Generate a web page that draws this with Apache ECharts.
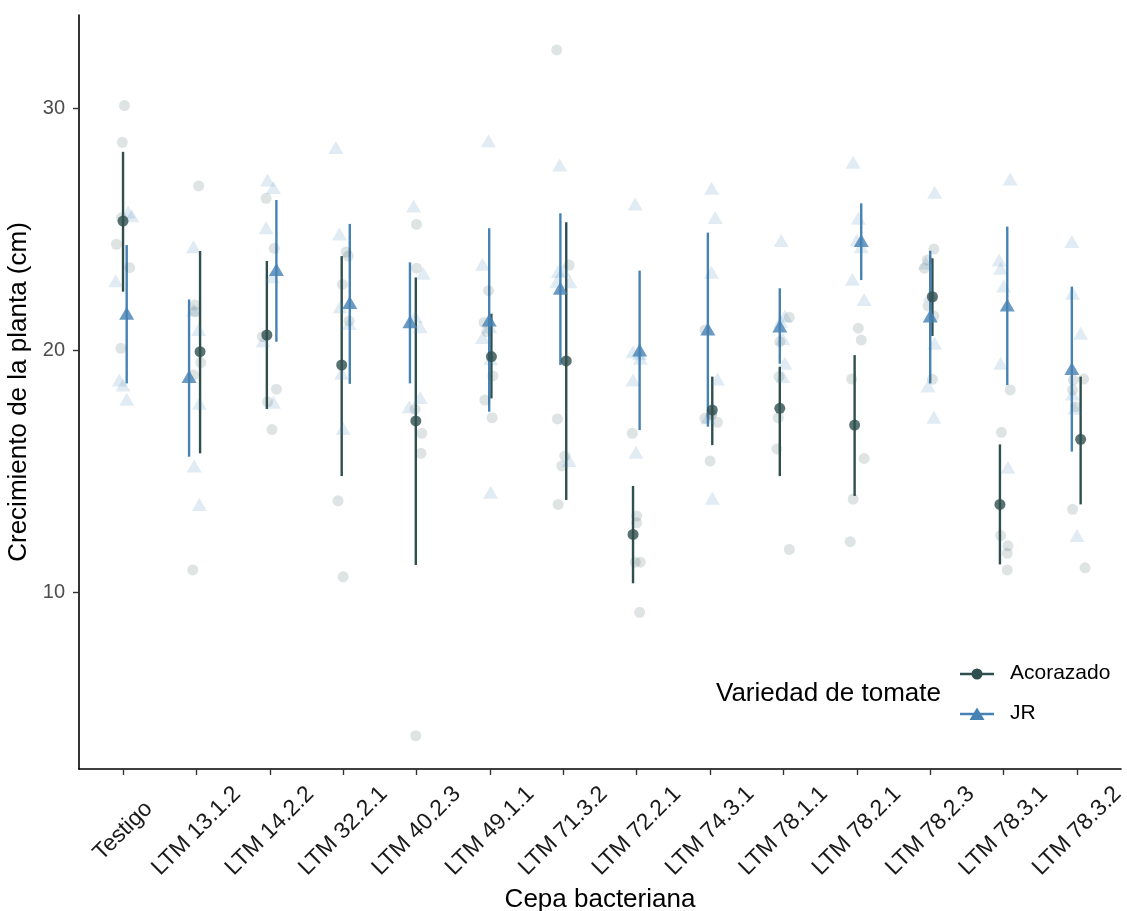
<!DOCTYPE html>
<html>
<head>
<meta charset="utf-8">
<script src="https://cdn.jsdelivr.net/npm/echarts@6/dist/echarts.min.js"></script>
<style>
html,body{margin:0;padding:0;background:#fff;}
#chart{width:1127px;height:911px;}
</style>
</head>
<body>
<div id="chart"></div>
<script>
const categories = ['Testigo','LTM 13.1.2','LTM 14.2.2','LTM 32.2.1','LTM 40.2.3','LTM 49.1.1','LTM 71.3.2','LTM 72.2.1','LTM 74.3.1','LTM 78.1.1','LTM 78.2.1','LTM 78.2.3','LTM 78.3.1','LTM 78.3.2'];
const yTicks = [10, 20, 30];

// Means and interval limits (cm)
const acorMean = [25.33, 19.93, 20.62, 19.38, 17.07, 19.73, 19.55, 12.38, 17.52, 17.59, 16.90, 22.20, 13.62, 16.31];
const acorLow  = [22.41, 15.73, 17.56, 14.79, 11.12, 18.00, 13.80, 10.36, 16.07, 14.79, 13.97, 20.58, 11.14, 13.62];
const acorHigh = [28.19, 24.09, 23.68, 23.88, 23.00, 21.50, 25.28, 14.38, 18.90, 19.31, 19.79, 23.79, 16.10, 18.90];
const jrMean = [21.52, 18.90, 23.33, 21.96, 21.17, 21.24, 22.55, 20.00, 20.87, 20.99, 24.52, 21.40, 21.86, 19.24];
const jrLow  = [18.62, 15.59, 20.34, 18.60, 18.62, 17.45, 19.38, 16.69, 16.83, 19.43, 22.89, 18.62, 18.55, 15.80];
const jrHigh = [24.34, 22.09, 26.20, 25.21, 23.62, 25.03, 25.65, 23.28, 24.85, 22.55, 26.06, 24.10, 25.10, 22.62];
// jitter of the summary marks (category units)
const acorMeanJitter = [0.00, 0.05, -0.04, -0.02, -0.01, 0.02, 0.04, -0.05, 0.03, -0.05, -0.03, 0.03, -0.05, 0.05];
const jrMeanJitter   = [0.05, -0.10, 0.09, 0.09, -0.09, -0.01, -0.04, 0.04, -0.03, -0.05, 0.06, 0.00, 0.05, -0.07];

// Raw observations per strain
const acorRaw = [
  [30.10,28.58,25.46,24.37,23.40,20.07],
  [26.78,21.86,21.58,19.48,18.97,10.91],
  [26.27,24.20,20.55,18.38,17.86,16.71],
  [24.05,23.88,22.71,21.20,13.77,10.63],
  [25.19,23.38,17.55,16.56,15.73,4.06],
  [22.45,21.14,20.76,18.93,17.93,17.20],
  [32.40,23.51,17.15,15.62,15.21,13.62],
  [16.56,13.14,12.86,11.23,11.23,9.16],
  [20.83,17.37,17.31,17.18,17.01,15.41],
  [21.35,20.34,18.90,17.20,15.91,11.76],
  [20.90,20.41,18.80,15.52,13.84,12.08],
  [24.17,23.72,23.38,21.82,21.40,18.79],
  [18.35,16.60,12.33,11.91,11.60,10.91],
  [18.80,18.76,18.35,17.66,13.42,11.00]
];
const acorRawJitter = [
  [0.02,-0.01,-0.02,-0.09,0.09,-0.03],
  [0.03,-0.02,-0.02,0.06,-0.04,-0.05],
  [-0.05,0.06,-0.10,0.09,-0.03,0.03],
  [0.04,0.07,-0.01,0.08,-0.07,0.00],
  [0.00,0.00,-0.02,0.07,0.06,-0.01],
  [-0.02,-0.08,-0.04,0.04,-0.07,0.03],
  [-0.09,0.08,-0.08,0.02,-0.02,-0.07],
  [-0.06,0.00,0.00,-0.02,0.05,0.04],
  [-0.07,0.02,0.02,-0.07,0.10,0.00],
  [0.08,-0.05,-0.06,-0.07,-0.09,0.08],
  [0.02,0.06,-0.07,0.10,-0.05,-0.09],
  [0.05,-0.04,-0.08,-0.03,0.05,0.03],
  [0.09,-0.03,-0.04,0.06,0.05,0.05],
  [0.09,-0.05,-0.06,-0.02,-0.06,0.11]
];
const jrRaw = [
  [25.70,25.55,22.86,18.76,18.55,17.96],
  [24.27,21.65,20.85,17.80,15.21,13.62],
  [27.02,26.72,25.05,23.03,20.38,17.84],
  [28.37,24.79,21.79,21.10,19.04,16.76],
  [25.95,23.17,21.38,20.96,18.04,17.66],
  [28.65,23.54,20.96,20.52,19.65,14.12],
  [27.64,23.30,23.24,22.82,22.82,15.43],
  [26.03,19.93,19.85,19.66,18.76,15.77],
  [26.68,25.48,23.21,18.80,17.20,13.87],
  [24.52,21.40,21.19,20.48,19.45,18.90],
  [27.76,25.44,24.55,24.27,22.92,22.09],
  [26.52,23.60,22.27,20.28,18.51,17.22],
  [27.07,23.72,23.38,22.64,19.45,15.15],
  [24.48,22.34,20.69,18.18,17.59,12.33]
];
const jrRawJitter = [
  [0.07,0.12,-0.10,-0.05,0.00,0.05],
  [-0.04,-0.04,0.03,0.04,-0.03,0.04],
  [-0.03,0.05,-0.05,0.03,-0.09,0.05],
  [-0.10,-0.05,-0.04,0.08,-0.02,0.00],
  [-0.04,0.09,-0.02,0.05,0.05,-0.10],
  [-0.02,-0.10,0.00,-0.10,0.01,0.01],
  [-0.05,0.00,-0.07,-0.09,0.09,0.08],
  [-0.02,-0.05,0.04,0.05,-0.05,-0.01],
  [0.02,0.07,0.02,0.10,-0.03,0.03],
  [-0.03,0.02,-0.04,-0.01,0.02,-0.01],
  [-0.05,0.02,0.00,0.06,-0.06,0.10],
  [0.06,-0.06,0.00,0.06,-0.03,0.05],
  [0.09,-0.06,-0.04,0.00,-0.04,0.06],
  [-0.07,-0.06,0.05,-0.06,-0.03,0.00]
];

const ACOR = '#2F4F4F', JR = '#4682B4';
const FONT = '"Liberation Sans", Arial, Helvetica, sans-serif';

function rawData(vals, jit) {
  const out = [];
  vals.forEach((row, i) => row.forEach((v, j) => out.push([i + jit[i][j], v])));
  return out;
}
function meanData(m, jit) { return m.map((v, i) => [i + jit[i], v]); }
function barData(lo, hi, jit) { return lo.map((v, i) => [i + jit[i], v, hi[i]]); }
function barSeries(data, color) {
  return {
    type: 'custom', data: data, encode: {x: 0, y: [1, 2]}, silent: true,
    renderItem: function (params, api) {
      const x = api.value(0);
      const a = api.coord([x, api.value(1)]);
      const b = api.coord([x, api.value(2)]);
      return {type: 'line', shape: {x1: a[0], y1: a[1], x2: b[0], y2: b[1]},
              style: {stroke: color, lineWidth: 2.4}};
    }
  };
}

const chart = echarts.init(document.getElementById('chart'), null, {renderer: 'canvas'});
const tickIdx = categories.map((c, i) => i);
chart.setOption({
  animation: false,
  backgroundColor: '#ffffff',
  textStyle: {fontFamily: FONT},
  grid: {left: 79, right: 6, top: 15, bottom: 142, containLabel: false, outerBoundsMode: 'none'},
  xAxis: {
    type: 'value', min: -0.6, max: 13.6,
    name: 'Cepa bacteriana', nameLocation: 'middle', nameGap: 111,
    nameTextStyle: {fontSize: 26, color: '#000', fontFamily: FONT},
    axisLine: {show: true, onZero: false, lineStyle: {color: '#000', width: 1.6}},
    axisTick: {show: true, customValues: tickIdx, length: 6, lineStyle: {color: '#333', width: 1.4}},
    axisLabel: {show: true, customValues: tickIdx, rotate: 45, align: 'center', verticalAlign: 'middle',
      margin: 62, fontSize: 23, color: '#1a1a1a', fontFamily: FONT,
      formatter: function (v) { return categories[Math.round(v)] || ''; }},
    splitLine: {show: false}
  },
  yAxis: {
    type: 'value', min: 2.686, max: 33.843,
    name: 'Crecimiento de la planta (cm)', nameLocation: 'middle', nameGap: 45,
    nameTextStyle: {fontSize: 26, color: '#000', fontFamily: FONT},
    axisLine: {show: true, onZero: false, lineStyle: {color: '#000', width: 1.6}},
    axisTick: {show: true, customValues: yTicks, length: 6, lineStyle: {color: '#333', width: 1.4}},
    axisLabel: {show: true, customValues: yTicks, margin: 14, fontSize: 20, color: '#4d4d4d', fontFamily: FONT},
    splitLine: {show: false}
  },
  series: [
    {name: 'Acorazado raw', type: 'scatter', data: rawData(acorRaw, acorRawJitter), symbol: 'circle', symbolSize: 11,
     itemStyle: {color: 'rgba(47,79,79,0.2)'}, silent: true},
    {name: 'JR raw', type: 'scatter', data: rawData(jrRaw, jrRawJitter), symbol: 'triangle', symbolSize: [15, 13],
     itemStyle: {color: 'rgba(70,130,180,0.2)'}, silent: true},
    barSeries(barData(acorLow, acorHigh, acorMeanJitter), ACOR),
    {name: 'Acorazado', type: 'scatter', data: meanData(acorMean, acorMeanJitter), symbol: 'circle', symbolSize: 11,
     itemStyle: {color: ACOR}},
    barSeries(barData(jrLow, jrHigh, jrMeanJitter), JR),
    {name: 'JR', type: 'scatter', data: meanData(jrMean, jrMeanJitter), symbol: 'triangle', symbolSize: [15, 13],
     itemStyle: {color: JR}}
  ],
  graphic: [
    {type: 'text', left: 716, top: 681, style: {text: 'Variedad de tomate', font: '26px ' + FONT, fill: '#000'}},
    {type: 'line', shape: {x1: 960, y1: 674, x2: 994, y2: 674}, style: {stroke: ACOR, lineWidth: 2.4}},
    {type: 'circle', shape: {cx: 977, cy: 674, r: 5.5}, style: {fill: ACOR}},
    {type: 'text', left: 1010, top: 663, style: {text: 'Acorazado', font: '21px ' + FONT, fill: '#000'}},
    {type: 'line', shape: {x1: 960, y1: 714, x2: 994, y2: 714}, style: {stroke: JR, lineWidth: 2.4}},
    {type: 'polygon', shape: {points: [[977, 707.5], [984.5, 720], [969.5, 720]]}, style: {fill: JR}},
    {type: 'text', left: 1010, top: 703, style: {text: 'JR', font: '21px ' + FONT, fill: '#000'}}
  ]
});
</script>
</body>
</html>
